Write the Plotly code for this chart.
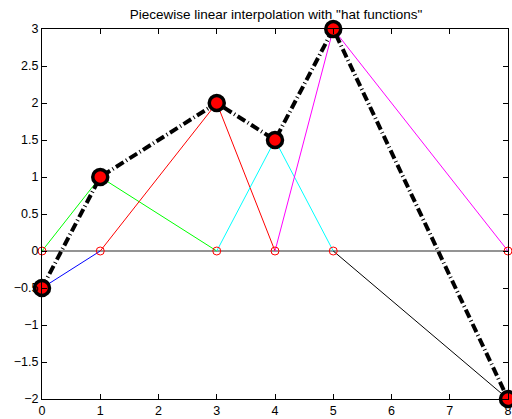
import plotly.graph_objects as go

x_nodes = [0, 1, 3, 4, 5, 8]
y_nodes = [-0.5, 1, 2, 1.5, 3, -2]
hat_colors = ["#0000ff", "#00ff00", "#ff0000", "#00ffff", "#ff00ff", "#000000"]
x_ticks = [0, 1, 2, 3, 4, 5, 6, 7, 8]
y_ticks = [-2, -1.5, -1, -0.5, 0, 0.5, 1, 1.5, 2, 2.5, 3]
title = 'Piecewise linear interpolation with "hat functions"'

fig = go.Figure()

# zero line
fig.add_trace(go.Scatter(x=[x_nodes[0], x_nodes[-1]], y=[0, 0], mode="lines",
                         line=dict(color="#707070", width=1.5), showlegend=False))

# hat functions
n = len(x_nodes)
for i in range(n):
    xs, ys = [], []
    if i > 0:
        xs.append(x_nodes[i - 1]); ys.append(0)
    xs.append(x_nodes[i]); ys.append(y_nodes[i])
    if i < n - 1:
        xs.append(x_nodes[i + 1]); ys.append(0)
    fig.add_trace(go.Scatter(x=xs, y=ys, mode="lines",
                             line=dict(color=hat_colors[i], width=1), showlegend=False))

# open red circles at nodes
fig.add_trace(go.Scatter(x=x_nodes, y=[0] * n, mode="markers",
                         marker=dict(symbol="circle-open", size=8, color="#ff0000",
                                     line=dict(width=1)),
                         cliponaxis=False, showlegend=False))

# interpolant
fig.add_trace(go.Scatter(x=x_nodes, y=y_nodes, mode="lines",
                         line=dict(color="black", width=4, dash="9px,3px,1px,3px"),
                         showlegend=False))
fig.add_trace(go.Scatter(x=x_nodes, y=y_nodes, mode="markers",
                         marker=dict(symbol="circle", size=15, color="#ff0000",
                                     line=dict(color="black", width=3.5)),
                         cliponaxis=False, showlegend=False))

axis_common = dict(showgrid=False, zeroline=False, showline=True, linecolor="black",
                   linewidth=1, mirror="ticks", ticks="inside", ticklen=5,
                   tickcolor="black", ticklabeloverflow="allow",
                   tickfont=dict(family="Liberation Sans, Arial", size=12.5, color="black"))
fig.update_xaxes(range=[0, 8], tickvals=x_ticks, **axis_common)
fig.update_yaxes(range=[-2, 3], tickvals=y_ticks,
                 ticktext=[("%g" % v).replace("-", "\u2212") for v in y_ticks], **axis_common)

fig.update_layout(
    width=512, height=419,
    margin=dict(l=42, r=0, t=29, b=20, pad=0),
    paper_bgcolor="white", plot_bgcolor="white",
    title=dict(text=title, x=(42 + 510) / 2 / 512, xanchor="center", y=1 - 14 / 419,
               yanchor="middle", font=dict(family="Liberation Sans, Arial", size=13.5,
                                           color="black")),
)

fig.write_html("out.html", config={"displayModeBar": False},
               post_script="document.body.style.margin='0';document.body.style.overflow='hidden';")
